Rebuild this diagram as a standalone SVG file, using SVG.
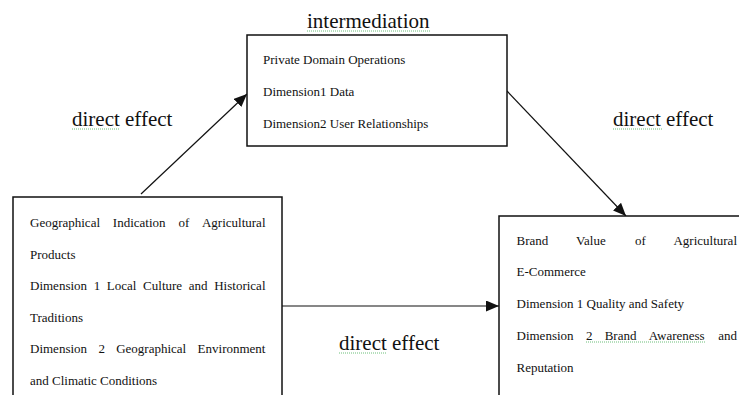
<svg xmlns="http://www.w3.org/2000/svg" width="739" height="395" viewBox="0 0 739 395">
<style>
.box{fill:#fff;stroke:#111;stroke-width:1.5}
.t{font-size:13px;fill:#111}
.lbl{font-size:21px;fill:#111}
.conn{stroke:#111;stroke-width:1.2;fill:none}
.sq{stroke:#6dbf7a;stroke-width:1;stroke-dasharray:1 1;fill:none}
</style>
<defs>
<marker id="ah" markerUnits="userSpaceOnUse" markerWidth="14" markerHeight="12" refX="13" refY="5.5" orient="auto">
<path d="M0,0 L13,5.5 L0,11 z" fill="#111"/>
</marker>
</defs>
<rect width="739" height="395" fill="#fff"/>
<g id="connectors">
<line class="conn" x1="141" y1="194" x2="247" y2="94" marker-end="url(#ah)"/>
<line class="conn" x1="507" y1="91" x2="626" y2="216" marker-end="url(#ah)"/>
<line class="conn" x1="282" y1="306" x2="499" y2="306" marker-end="url(#ah)"/>
</g>
<g font-family="'Liberation Serif', 'DejaVu Serif', serif">
<g id="labels">
<text class="lbl" x="307" y="28">intermediation</text>
<line class="sq" x1="307" y1="31" x2="431" y2="31"/>
<text class="lbl" x="72" y="126">direct effect</text>
<line class="sq" x1="72" y1="129" x2="120" y2="129"/>
<text class="lbl" x="613" y="126">direct effect</text>
<line class="sq" x1="613" y1="129" x2="662" y2="129"/>
<text class="lbl" x="339" y="350">direct effect</text>
<line class="sq" x1="339" y1="353" x2="387" y2="353"/>
</g>
<g id="node-mediator">
<rect class="box" x="247" y="35" width="260" height="111"/>
<text class="t" x="263" y="64">Private Domain Operations</text>
<text class="t" x="263" y="96">Dimension1 Data</text>
<text class="t" x="263" y="128">Dimension2 User Relationships</text>
</g>
<g id="node-independent">
<rect class="box" x="13" y="197" width="269" height="210"/>
<text class="t" y="227"><tspan x="30">Geographical</tspan><tspan x="112.8">Indication</tspan><tspan x="178.4">of</tspan><tspan x="265.5" text-anchor="end">Agricultural</tspan></text>
<text class="t" x="30" y="258.5">Products</text>
<text class="t" y="290"><tspan x="30">Dimension</tspan><tspan x="93.7">1</tspan><tspan x="106.8">Local</tspan><tspan x="143.1">Culture</tspan><tspan x="188.7">and</tspan><tspan x="265.5" text-anchor="end">Historical</tspan></text>
<text class="t" x="30" y="321.5">Traditions</text>
<text class="t" y="353"><tspan x="30">Dimension</tspan><tspan x="98.4">2</tspan><tspan x="116.2">Geographical</tspan><tspan x="265.5" text-anchor="end">Environment</tspan></text>
<text class="t" x="30" y="384.5">and Climatic Conditions</text>
</g>
<g id="node-dependent">
<rect class="box" x="499" y="216" width="260" height="200"/>
<text class="t" y="245"><tspan x="516.5">Brand</tspan><tspan x="576.1">Value</tspan><tspan x="634.9">of</tspan><tspan x="737" text-anchor="end">Agricultural</tspan></text>
<text class="t" x="516.5" y="276">E-Commerce</text>
<text class="t" x="516.5" y="308">Dimension 1 Quality and Safety</text>
<text class="t" y="340"><tspan x="516.5">Dimension</tspan><tspan x="585.9">2</tspan><tspan x="604.7">Brand</tspan><tspan x="648.8">Awareness</tspan><tspan x="737" text-anchor="end">and</tspan></text>
<line class="sq" x1="586" y1="342" x2="706" y2="342"/>
<text class="t" x="516.5" y="372">Reputation</text>
</g>
</g>
</svg>
